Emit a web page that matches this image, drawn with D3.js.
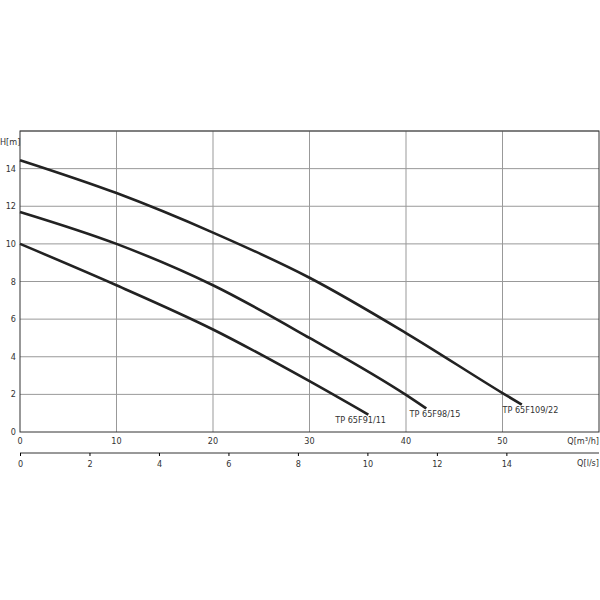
<!DOCTYPE html><html><head><script src="https://cdn.jsdelivr.net/npm/d3@7"></script>
<style>body{margin:0;background:#fff}text{font-family:"DejaVu Sans Condensed","Liberation Sans Narrow",sans-serif;font-size:9px;fill:#333}</style></head><body><svg id="c" width="600" height="600"></svg><script>
const qTicks=[0,10,20,30,40,50];
const hTicks=[0,2,4,6,8,10,12,14];
const lsTicks=[0,2,4,6,8,10,12,14];
const names=["TP 65F91/11","TP 65F98/15","TP 65F109/22"];
const curveA=[[0,10],[10,7.8],[20,5.45],[30,2.7],[36.1,0.92]];
const curveB=[[0,11.7],[10,10],[20,7.8],[30,5.0],[40,1.97],[42.1,1.25]];
const curveC=[[0,14.45],[10,12.7],[20,10.6],[30,8.2],[40,5.26],[50,2.07],[52.0,1.45]];
const labelPos=[[35.3,0.5],[43,0.8],[52.9,1.0]];
const svg=d3.select("#c");
const x=d3.scaleLinear([0,60],[20,599]);
const y=d3.scaleLinear([0,16],[432,131]);
const xl=d3.scaleLinear([0,60/3.6],[20,599]);
const g=svg.append("g");
g.selectAll(".v").data(qTicks.slice(1)).join("line").attr("x1",d=>x(d)).attr("x2",d=>x(d)).attr("y1",131).attr("y2",432).attr("stroke","#999");
g.selectAll(".h").data(hTicks.slice(1).concat([16])).join("line").attr("y1",d=>y(d)).attr("y2",d=>y(d)).attr("x1",20).attr("x2",599).attr("stroke","#999");
g.append("rect").attr("x",20).attr("y",131).attr("width",579).attr("height",301).attr("fill","none").attr("stroke","#333");
const line=d3.line().x(d=>x(d[0])).y(d=>y(d[1])).curve(d3.curveMonotoneX);
[curveA,curveB,curveC].forEach(c=>svg.append("path").attr("d",line(c)).attr("fill","none").attr("stroke","#222").attr("stroke-width",2.6));
names.forEach((n,i)=>svg.append("text").attr("x",x(labelPos[i][0])).attr("y",y(labelPos[i][1])).attr("text-anchor","middle").text(n));
svg.selectAll(".yt").data(hTicks).join("text").attr("x",16).attr("y",d=>y(d)+3).attr("text-anchor","end").text(d=>d);
svg.selectAll(".xt").data(qTicks).join("text").attr("x",d=>x(d)).attr("y",444).attr("text-anchor","middle").text(d=>d);
svg.append("text").attr("x",0).attr("y",145).text("H[m]");
svg.append("text").attr("x",599).attr("y",444).attr("text-anchor","end").text("Q[m³/h]");
const ax=svg.append("g").attr("transform","translate(0,453)").call(d3.axisBottom(xl).tickValues(lsTicks).tickSize(3).tickFormat(d=>d));
ax.select(".domain").attr("stroke","#333").attr("d","M20,0H599");
ax.selectAll("text").attr("dy","0.9em").style("font-size","9px");
svg.append("text").attr("x",599).attr("y",466).attr("text-anchor","end").text("Q[l/s]");
</script></body></html>
